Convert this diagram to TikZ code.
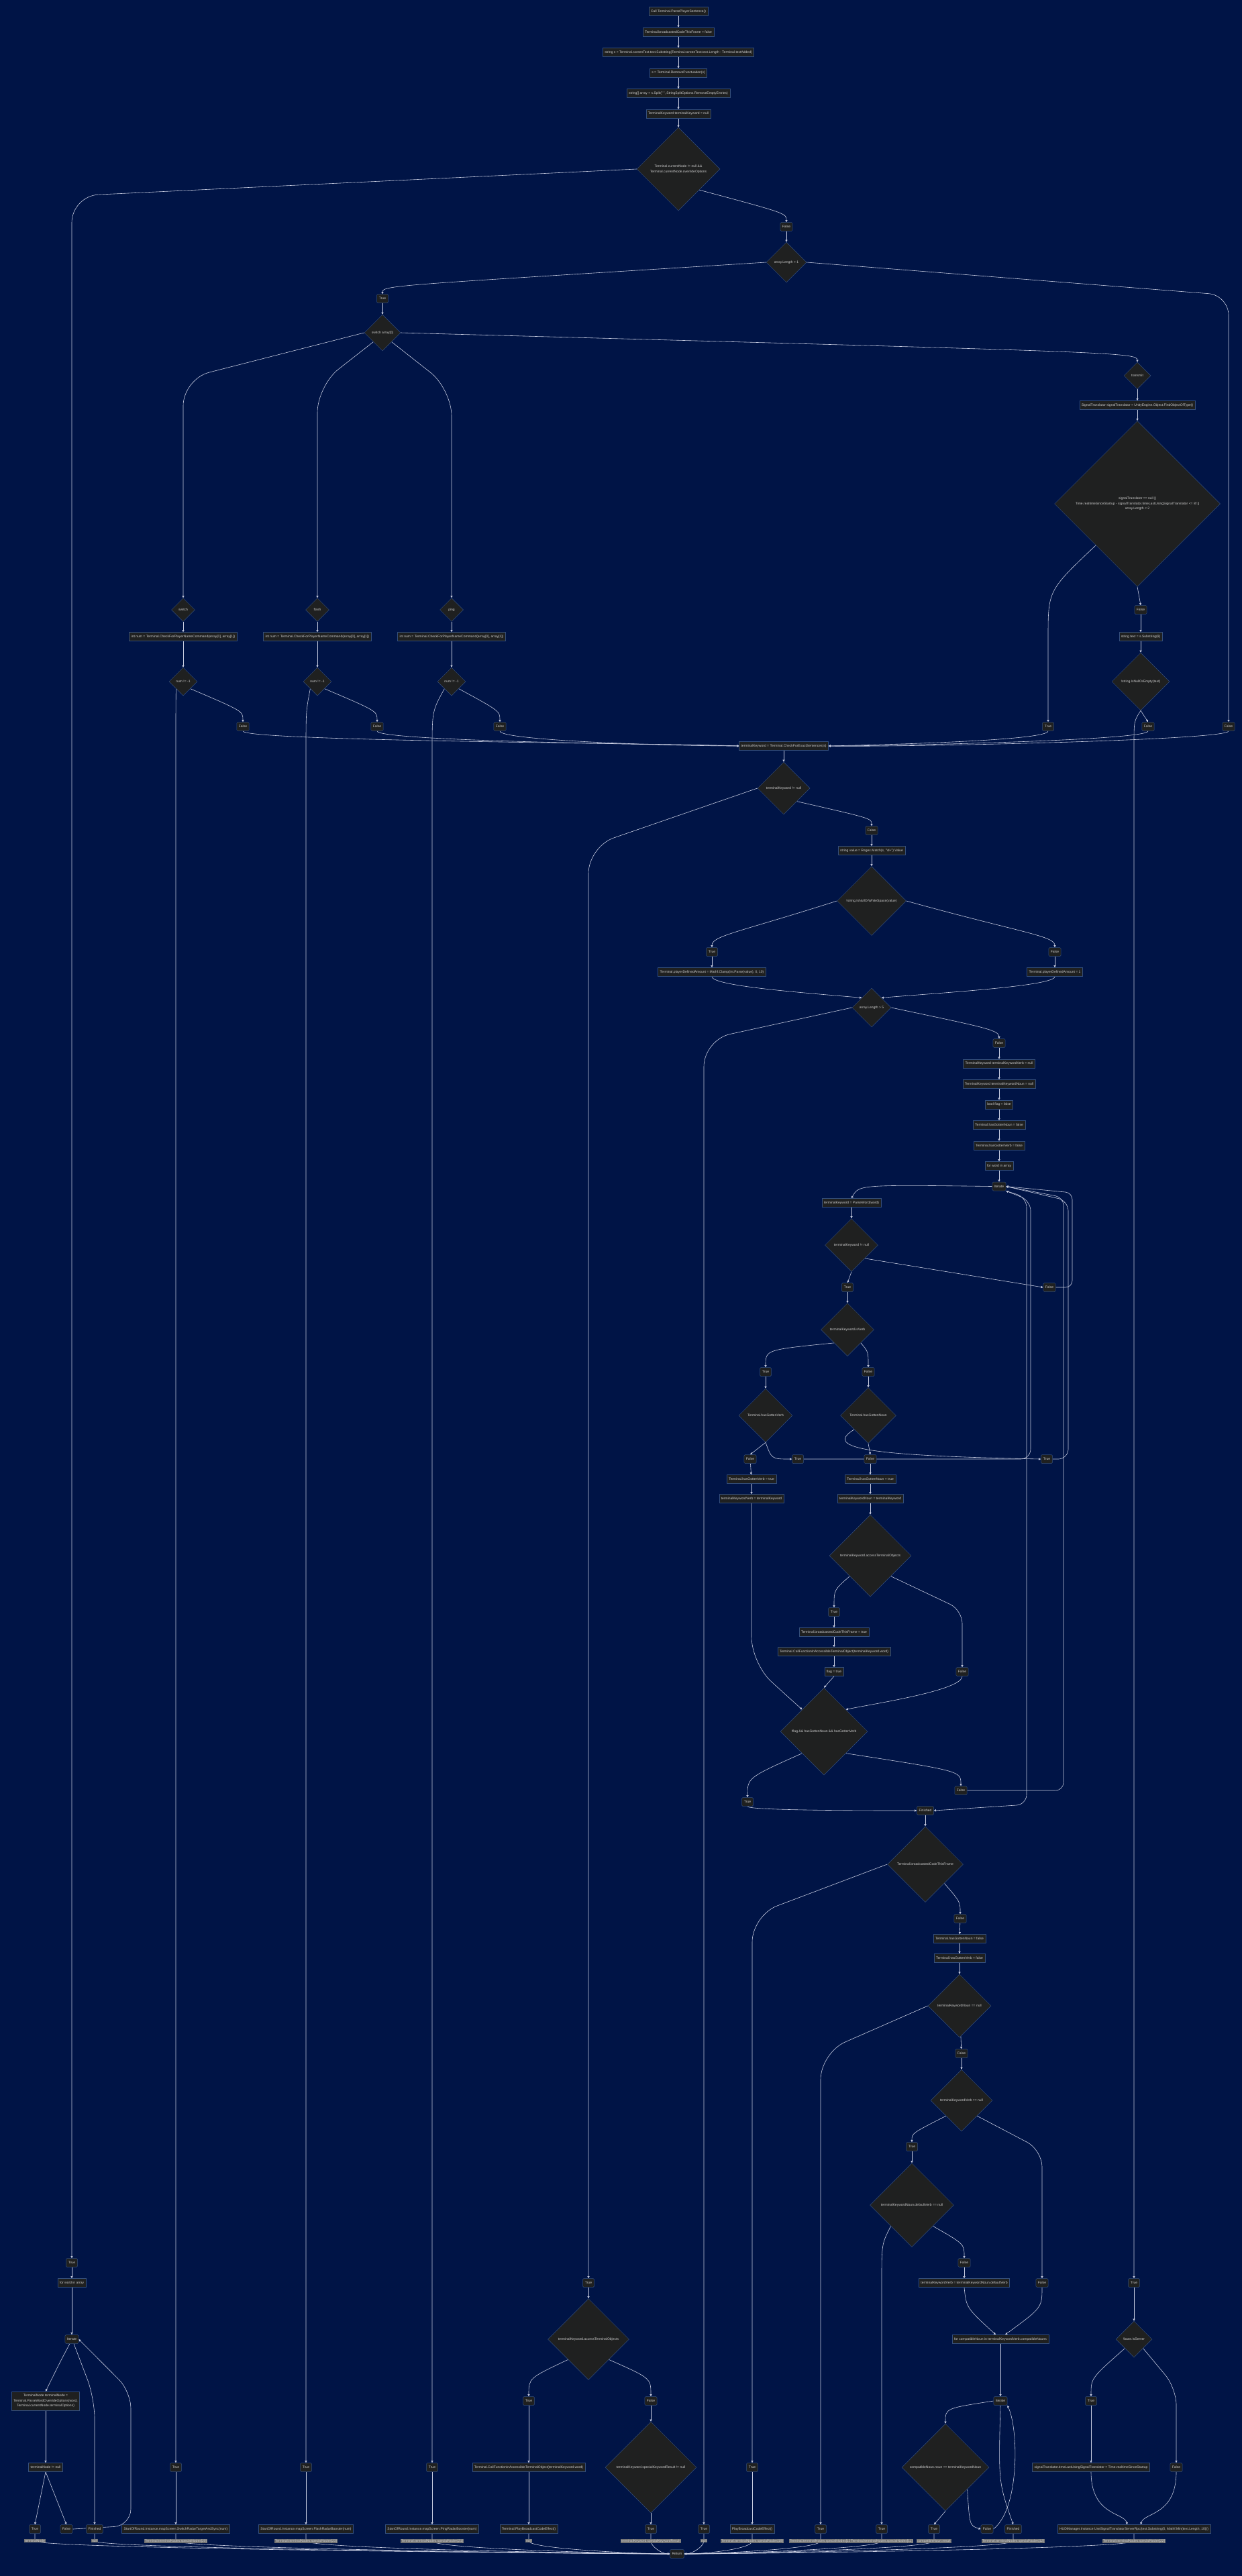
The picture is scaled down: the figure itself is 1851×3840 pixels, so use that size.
\documentclass[tikz,border=0pt]{standalone}
\usepackage{fontspec}
\setmainfont{Liberation Sans}
\usetikzlibrary{arrows.meta,positioning,shapes.geometric}
\definecolor{navybg}{RGB}{0,20,70}
\definecolor{boxfill}{RGB}{31,32,32}
\definecolor{boxline}{RGB}{52,78,122}
\definecolor{boxtext}{RGB}{205,205,205}
\definecolor{wirecol}{RGB}{200,205,225}
\definecolor{tagfill}{RGB}{115,115,115}
\pgfdeclarelayer{back}
\pgfdeclarelayer{wires}
\pgfsetlayers{back,wires,main}

\begin{document}
\begin{tikzpicture}[
    x=1pt, y=-1pt,
    >={Triangle[length=3.2pt,width=3.2pt]},
    font=\fontsize{5}{7.5}\selectfont,
    node distance=17pt,
    box/.style={
        rectangle,
        draw=boxline,
        fill=boxfill,
        text=boxtext,
        line width=0.5pt,
        minimum height=13pt,
        inner xsep=3pt,
        inner ysep=1pt
    },
    lbl/.style={box, rounded corners=1.5pt, minimum width=17pt},
    choice/.style={
        diamond,
        aspect=1,
        draw=boxline,
        fill=boxfill,
        text=boxtext,
        line width=0.5pt,
        inner sep=0pt,
        align=center
    },
    elab/.style={fill=tagfill, text=boxtext, inner xsep=1pt, inner ysep=0.5pt},
    wire/.style={draw=wirecol, line width=0.6pt, ->},
    bendwire/.style={wire, rounded corners=#1},
    bendwire/.default=20pt
]
\useasboundingbox (0,0) rectangle (1851,3840);
\begin{pgfonlayer}{back}
\fill[navybg] (0,0) rectangle (1851,3840);
\end{pgfonlayer}

% entry chain
\node[box] (start) at (1011,17) {Call Terminal.ParsePlayerSentence()};
\node[box, below=of start] (bcfalse) {Terminal.broadcastedCodeThisFrame = false};
\node[box, below=of bcfalse] (subs) {string s = Terminal.screenText.text.Substring(Terminal.screenText.text.Length - Terminal.textAdded)};
\node[box, below=of subs] (punct) {s = Terminal.RemovePunctuation(s)};
\node[box, below=of punct] (split) {string[] array = s.Split(" ", StringSplitOptions.RemoveEmptyEntries)};
\node[box, below=of split] (tkinit) {TerminalKeyword terminalKeyword = null};
\node[choice, minimum size=124pt] (override) at (1011,252) {Terminal.currentNode != null \&\&\\Terminal.currentNode.overrideOptions};
\node[lbl] (ovF) at (1172,338) {False};
\node[choice, minimum size=60pt] (lenOne) at (1172,391) {array.Length > 1};
\node[lbl] (lenT) at (570,445) {True};
\node[lbl] (lenF) at (1831,1083) {False};
\node[choice, minimum size=54pt] (sw) at (570,496) {switch array[0]};

% switch cases
\node[choice, minimum size=35pt] (caseSwitch) at (273,909) {switch};
\node[choice, minimum size=35pt] (caseFlash) at (473,909) {flash};
\node[choice, minimum size=35pt] (casePing) at (673,909) {ping};
\node[choice, minimum size=40pt] (caseTx) at (1695,560) {transmit};

\node[box] (numS) at (273,949) {int num = Terminal.CheckForPlayerNameCommand(array[0], array[1])};
\node[choice, minimum size=42pt] (chkS) at (273,1016) {num != -1};
\node[lbl] (chkSF) at (362,1083) {False};
\node[lbl] (chkST) at (262,3678) {True};
\node[box] (radS) at (262,3770) {StartOfRound.Instance.mapScreen.SwitchRadarTargetAndSync(num)};

\node[box] (numF) at (473,949) {int num = Terminal.CheckForPlayerNameCommand(array[0], array[1])};
\node[choice, minimum size=42pt] (chkF) at (473,1016) {num != -1};
\node[lbl] (chkFF) at (562,1083) {False};
\node[lbl] (chkFT) at (456,3678) {True};
\node[box] (radF) at (456,3770) {StartOfRound.Instance.mapScreen.FlashRadarBooster(num)};

\node[box] (numP) at (673,949) {int num = Terminal.CheckForPlayerNameCommand(array[0], array[1])};
\node[choice, minimum size=42pt] (chkP) at (673,1016) {num != -1};
\node[lbl] (chkPF) at (745,1083) {False};
\node[lbl] (chkPT) at (644,3678) {True};
\node[box] (radP) at (644,3770) {StartOfRound.Instance.mapScreen.PingRadarBooster(num)};

% transmit
\node[box] (findSig) at (1695,604) {SignalTranslator signalTranslator = UnityEngine.Object.FindObjectOfType()};
\node[choice, minimum size=247pt] (sigOk) at (1695,751) {signalTranslator == null ||\\Time.realtimeSinceStartup - signalTranslator.timeLastUsingSignalTranslator <= 8f ||\\array.Length < 2};
\node[lbl] (sigT) at (1562,1083) {True};
\node[lbl] (sigF) at (1700,909) {False};
\node[box] (txt) at (1700,949) {string text = s.Substring(8)};
\node[choice, minimum size=86pt] (txtOk) at (1700,1016) {!string.IsNullOrEmpty(text)};
\node[lbl] (txtF) at (1711,1083) {False};
\node[lbl] (txtT) at (1690,3403) {True};
\node[choice, minimum size=54pt] (server) at (1690,3487) {!base.IsServer};
\node[lbl] (serverT) at (1626,3579) {True};
\node[box] (stamp) at (1626,3678) {signalTranslator.timeLastUsingSignalTranslator = Time.realtimeSinceStartup};
\node[lbl] (serverF) at (1753,3678) {False};
\node[box] (hud) at (1690,3770) {HUDManager.Instance.UseSignalTranslatorServerRpc(text.Substring(0, Mathf.Min(text.Length, 10)))};

% exact sentences
\node[box] (exact) at (1168,1112) {terminalKeyword = Terminal.CheckForExactSentences(s)};
\node[choice, minimum size=78pt] (exactOk) at (1168,1175) {terminalKeyword != null};
\node[lbl] (exactF) at (1299,1238) {False};
\node[box] (regex) at (1299,1268) {string value = Regex.Match(s, "\textbackslash d+").Value};
\node[choice, minimum size=103pt] (valOk) at (1299,1343) {!string.IsNullOrWhiteSpace(value)};
\node[lbl] (valT) at (1061,1419) {True};
\node[box] (clamp) at (1061,1449) {Terminal.playerDefinedAmount = Mathf.Clamp(int.Parse(value), 0, 10)};
\node[lbl] (valF) at (1572,1419) {False};
\node[box] (amtOne) at (1572,1449) {Terminal.playerDefinedAmount = 1};
\node[choice, minimum size=58pt] (lenFive) at (1299,1502) {array.Length > 5};
\node[lbl] (lenFiveT) at (1049,3770) {True};
\node[lbl] (lenFiveF) at (1489,1555) {False};
\node[box, below=of lenFiveF] (verbNull) {TerminalKeyword terminalKeywordVerb = null};
\node[box, below=of verbNull] (nounNull) {TerminalKeyword terminalKeywordNoun = null};
\node[box, below=of nounNull] (flagInit) {bool flag = false};
\node[box, below=of flagInit] (nounReset) {Terminal.hasGottenNoun = false};
\node[box, below=of nounReset] (verbReset) {Terminal.hasGottenVerb = false};
\node[box, below=of verbReset] (forWord) {for word in array};
\node[lbl, below=of forWord] (iterWord) {Iterate};

% word loop
\node[box] (parse) at (1269,1793) {terminalKeyword = ParseWord(word)};
\node[choice, minimum size=79pt] (wordOk) at (1269,1856) {terminalKeyword != null};
\node[lbl] (wordT) at (1263,1919) {True};
\node[lbl] (wordF) at (1564,1919) {False};
\node[choice, minimum size=79pt] (isVerb) at (1263,1982) {terminalKeyword.isVerb};
\node[lbl] (isVerbT) at (1141,2045) {True};
\node[lbl] (isVerbF) at (1294,2045) {False};
\node[choice, minimum size=80pt] (gotVerb) at (1141,2110) {Terminal.hasGottenVerb};
\node[choice, minimum size=83pt] (gotNoun) at (1294,2110) {Terminal.hasGottenNoun};
\node[lbl] (gotVerbF) at (1118,2175) {False};
\node[lbl] (gotVerbT) at (1189,2175) {True};
\node[lbl] (gotNounF) at (1297,2175) {False};
\node[lbl] (gotNounT) at (1560,2175) {True};
\node[box] (setVerb) at (1120,2205) {Terminal.hasGottenVerb = true};
\node[box] (keepVerb) at (1120,2234) {terminalKeywordVerb = terminalKeyword};
\node[box] (setNoun) at (1297,2205) {Terminal.hasGottenNoun = true};
\node[box] (keepNoun) at (1297,2234) {terminalKeywordNoun = terminalKeyword};
\node[choice, minimum size=122pt] (access) at (1297,2319) {terminalKeyword.accessTerminalObjects};
\node[lbl] (accessT) at (1243,2403) {True};
\node[lbl] (accessF) at (1434,2492) {False};
\node[box] (bcTrue) at (1243,2433) {Terminal.broadcastedCodeThisFrame = true};
\node[box] (callObj) at (1243,2462) {Terminal.CallFunctionInAccessibleTerminalObject(terminalKeyword.word)};
\node[box] (flagSet) at (1243,2492) {flag = true};
\node[choice, minimum size=130pt] (done) at (1228,2581) {!flag \&\& hasGottenNoun \&\& hasGottenVerb};
\node[lbl] (doneT) at (1114,2686) {True};
\node[lbl] (doneF) at (1432,2669) {False};
\node[lbl] (wordsDone) at (1379,2699) {Finished};

% after the word loop
\node[choice, minimum size=113pt] (bcCheck) at (1379,2779) {Terminal.broadcastedCodeThisFrame};
\node[lbl] (bcT) at (1121,3678) {True};
\node[box] (playFx) at (1121,3770) {PlayBroadcastCodeEffect()};
\node[lbl] (bcF) at (1431,2860) {False};
\node[box] (nounClr) at (1430,2890) {Terminal.hasGottenNoun = false};
\node[box] (verbClr) at (1430,2919) {Terminal.hasGottenVerb = false};
\node[choice, minimum size=94pt] (nounNone) at (1430,2990) {terminalKeywordNoun == null};
\node[lbl] (nounNoneT) at (1223,3770) {True};
\node[lbl] (nounNoneF) at (1433,3061) {False};
\node[choice, minimum size=92pt] (verbNone) at (1433,3131) {terminalKeywordVerb == null};
\node[lbl] (verbNoneT) at (1359,3200) {True};
\node[lbl] (verbNoneF) at (1553,3403) {False};
\node[choice, minimum size=125pt] (defNone) at (1359,3287) {terminalKeywordNoun.defaultVerb == null};
\node[lbl] (defNoneT) at (1314,3770) {True};
\node[lbl] (defNoneF) at (1437,3373) {False};
\node[box] (useDef) at (1437,3403) {terminalKeywordVerb = terminalKeywordNoun.defaultVerb};
\node[box] (forNoun) at (1491,3487) {for compatibleNoun in terminalKeywordVerb.compatibleNouns};
\node[lbl] (iterNoun) at (1491,3579) {Iterate};
\node[choice, minimum size=130pt] (match) at (1409,3678) {compatibleNoun.noun == terminalKeywordNoun};
\node[lbl] (matchT) at (1392,3770) {True};
\node[lbl] (matchF) at (1471,3770) {False};
\node[lbl] (nounsDone) at (1510,3770) {Finished};

% exact keyword found
\node[lbl] (exactT) at (877,3403) {True};
\node[choice, minimum size=121pt] (exAccess) at (877,3487) {terminalKeyword.accessTerminalObjects};
\node[lbl] (exAccessT) at (788,3579) {True};
\node[box] (exCall) at (788,3678) {Terminal.CallFunctionInAccessibleTerminalObject(terminalKeyword.word)};
\node[box] (exFx) at (788,3770) {Terminal.PlayBroadcastCodeEffect()};
\node[lbl] (exAccessF) at (970,3579) {False};
\node[choice, minimum size=136pt] (special) at (970,3678) {terminalKeyword.specialKeywordResult != null};
\node[lbl] (specialT) at (970,3770) {True};

% override options
\node[lbl] (ovT) at (107,3373) {True};
\node[box] (forOpt) at (107,3403) {for word in array};
\node[lbl] (iterOpt) at (107,3487) {Iterate};
\node[box, align=center, minimum height=28pt] (parseOpt) at (68,3579) {TerminalNode terminalNode =\\Terminal.ParseWordOverrideOptions(word,\\Terminal.currentNode.terminalOptions)};
\node[box] (optOk) at (68,3678) {terminalNode != null};
\node[lbl] (optT) at (52,3770) {True};
\node[lbl] (optF) at (99,3770) {False};
\node[lbl] (optsDone) at (141,3770) {Finished};

\node[lbl] (ret) at (1009,3807) {Return};

\begin{pgfonlayer}{wires}
\draw[wire] (start) -- (bcfalse);
\draw[wire] (bcfalse) -- (subs);
\draw[wire] (subs) -- (punct);
\draw[wire] (punct) -- (split);
\draw[wire] (split) -- (tkinit);
\draw[wire] (tkinit) -- (override);
\draw[bendwire=40pt] (override.west) -- (107,292) -- (ovT.north);
\draw[wire] (override.south east) .. controls (1172,318) .. (ovF.north);
\draw[wire] (ovF) -- (lenOne);
\draw[wire] (lenOne.west) .. controls (600,425) and (570,425) .. (lenT.north);
\draw[bendwire=30pt] (lenOne.east) -- (1831,440) -- (lenF.north);
\draw[wire] (lenT) -- (sw);
\draw[bendwire=40pt] (sw.west) -- (273,565) -- (caseSwitch.north);
\draw[bendwire=40pt] (sw.south west) -- (473,575) -- (caseFlash.north);
\draw[bendwire=40pt] (sw.south east) -- (673,580) -- (casePing.north);
\draw[wire] (sw.east) .. controls (1660,525) and (1695,525) .. (caseTx.north);

\draw[wire] (caseSwitch) -- (numS);
\draw[wire] (numS) -- (chkS);
\draw[wire] (chkS.south west) .. controls (262,1060) .. (262,1120) -- (chkST.north);
\draw[wire] (chkS.south east) .. controls (362,1060) .. (chkSF.north);
\draw[wire] (chkST) -- (radS);
\draw[wire] (caseFlash) -- (numF);
\draw[wire] (numF) -- (chkF);
\draw[wire] (chkF.south west) .. controls (456,1060) .. (456,1120) -- (chkFT.north);
\draw[wire] (chkF.south east) .. controls (562,1060) .. (chkFF.north);
\draw[wire] (chkFT) -- (radF);
\draw[wire] (casePing) -- (numP);
\draw[wire] (numP) -- (chkP);
\draw[wire] (chkP.south west) .. controls (644,1060) .. (644,1120) -- (chkPT.north);
\draw[wire] (chkP.south east) .. controls (745,1060) .. (chkPF.north);
\draw[wire] (chkPT) -- (radP);

\draw[wire] (caseTx) -- (findSig);
\draw[wire] (findSig) -- (sigOk);
\draw[wire] (sigOk.south west) .. controls (1562,880) .. (1562,950) -- (sigT.north);
\draw[wire] (sigOk.south) -- (sigF.north);
\draw[wire] (sigF) -- (txt);
\draw[wire] (txt) -- (txtOk);
\draw[wire] (txtOk.south) .. controls (1690,1075) .. (1690,1110) -- (txtT.north);
\draw[wire] (txtOk.south) -- (txtF.north);
\draw[wire] (txtT) -- (server);
\draw[wire] (server.south west) .. controls (1626,3545) .. (serverT.north);
\draw[bendwire=25pt] (server.south east) -- (1753,3560) -- (serverF.north);
\draw[wire] (serverT) -- (stamp);
\draw[wire] (stamp.south) .. controls (1626,3750) and (1675,3745) .. ([xshift=-10pt]hud.north);
\draw[wire] (serverF.south) .. controls (1753,3750) and (1705,3745) .. ([xshift=10pt]hud.north);

\draw[wire] (chkSF.south) .. controls (362,1105) and (1000,1108) .. (exact.west);
\draw[wire] (chkFF.south) .. controls (562,1105) and (1000,1110) .. (exact.west);
\draw[wire] (chkPF.south) .. controls (745,1104) and (1000,1112) .. (exact.west);
\draw[wire] (sigT.south) .. controls (1562,1104) and (1320,1110) .. (exact.east);
\draw[wire] (txtF.south) .. controls (1711,1104) and (1320,1112) .. (exact.east);
\draw[wire] (lenF.south) .. controls (1831,1104) and (1320,1114) .. (exact.east);

\draw[wire] (exact) -- (exactOk);
\draw[bendwire=40pt] (exactOk.west) -- (877,1262) -- (exactT.north);
\draw[wire] (exactOk.south east) .. controls (1299,1220) .. (exactF.north);
\draw[wire] (exactF) -- (regex);
\draw[wire] (regex) -- (valOk);
\draw[wire] (valOk.west) .. controls (1100,1390) and (1061,1395) .. (valT.north);
\draw[wire] (valOk.east) .. controls (1520,1390) and (1572,1395) .. (valF.north);
\draw[wire] (valT) -- (clamp);
\draw[wire] (valF) -- (amtOne);
\draw[wire] (clamp.south) .. controls (1061,1470) and (1200,1480) .. (lenFive.north west);
\draw[wire] (amtOne.south) .. controls (1572,1470) and (1400,1480) .. (lenFive.north east);
\draw[bendwire=40pt] (lenFive.west) -- (1049,1550) -- (lenFiveT.north);
\draw[wire] (lenFive.east) .. controls (1460,1530) and (1489,1535) .. (lenFiveF.north);
\draw[wire] (lenFiveF) -- (verbNull);
\draw[wire] (verbNull) -- (nounNull);
\draw[wire] (nounNull) -- (flagInit);
\draw[wire] (flagInit) -- (nounReset);
\draw[wire] (nounReset) -- (verbReset);
\draw[wire] (verbReset) -- (forWord);
\draw[wire] (forWord) -- (iterWord);

\draw[wire] (iterWord.west) .. controls (1280,1766) .. (parse.north);
\draw[wire] (parse) -- (wordOk);
\draw[wire] (wordOk.south) -- (wordT.north);
\draw[wire] (wordOk.south east) -- (wordF.west);
\draw[bendwire=10pt] (wordF.east) -- (1598,1919) -- (1598,1778) -- (iterWord.east);
\draw[wire] (wordT) -- (isVerb);
\draw[wire] (isVerb.south west) .. controls (1141,2012) .. (isVerbT.north);
\draw[wire] (isVerb.south east) .. controls (1294,2015) .. (isVerbF.north);
\draw[wire] (isVerbT) -- (gotVerb);
\draw[wire] (isVerbF) -- (gotNoun);
\draw[wire] (gotVerb.south) -- (gotVerbF.north);
\draw[wire] (gotVerb.south) .. controls (1150,2175) .. (gotVerbT.west);
\draw[wire] (gotNoun.south) -- (gotNounF.north);
\draw[wire] (gotNoun.south west) .. controls (1225,2160) and (1300,2170) .. (gotNounT.west);
\draw[bendwire=15pt] (gotVerbT.east) -- (1536,2175) -- (1536,1790) -- (iterWord.south east);
\draw[bendwire=15pt] (gotNounT.east) -- (1592,2175) -- (1592,1790) -- (iterWord.east);
\draw[bendwire=15pt] (iterWord.south east) -- (1530,1785) -- (1530,2690) -- (wordsDone.east);

\draw[wire] (gotVerbF) -- (setVerb);
\draw[wire] (setVerb) -- (keepVerb);
\draw[bendwire=40pt] (keepVerb.south) -- (1120,2480) -- (done.north west);
\draw[wire] (gotNounF) -- (setNoun);
\draw[wire] (setNoun) -- (keepNoun);
\draw[wire] (keepNoun) -- (access);
\draw[wire] (access.south west) .. controls (1243,2370) .. (accessT.north);
\draw[bendwire=20pt] (access.south east) -- (1434,2400) -- (accessF.north);
\draw[wire] (accessT) -- (bcTrue);
\draw[wire] (bcTrue) -- (callObj);
\draw[wire] (callObj) -- (flagSet);
\draw[wire] (flagSet.south) -- (done.north);
\draw[wire] (accessF.south) .. controls (1434,2520) and (1300,2540) .. (done.north east);
\draw[wire] (done.south west) .. controls (1114,2650) .. (doneT.north);
\draw[wire] (done.south east) .. controls (1432,2640) .. (doneF.north);
\draw[bendwire=12pt] (doneF.east) -- (1585,2669) -- (1585,1785) -- (iterWord.east);
\draw[wire] (doneT.south) .. controls (1114,2699) and (1300,2699) .. (wordsDone.west);

\draw[wire] (wordsDone) -- (bcCheck);
\draw[bendwire=40pt] (bcCheck.west) -- (1121,2855) -- (bcT.north);
\draw[wire] (bcCheck.south east) .. controls (1431,2835) .. (bcF.north);
\draw[wire] (bcT) -- (playFx);
\draw[wire] (bcF) -- (nounClr);
\draw[wire] (nounClr) -- (verbClr);
\draw[wire] (verbClr) -- (nounNone);
\draw[bendwire=40pt] (nounNone.west) -- (1223,3060) -- (nounNoneT.north);
\draw[wire] (nounNone) -- (nounNoneF);
\draw[wire] (nounNoneF) -- (verbNone);
\draw[wire] (verbNone.south west) .. controls (1359,3180) .. (verbNoneT.north);
\draw[bendwire=25pt] (verbNone.south east) -- (1553,3205) -- (verbNoneF.north);
\draw[wire] (verbNoneT) -- (defNone);
\draw[wire] (defNone.south west) .. controls (1314,3345) .. (1314,3400) -- (defNoneT.north);
\draw[wire] (defNone.south east) .. controls (1437,3345) .. (defNoneF.north);
\draw[wire] (defNoneF) -- (useDef);
\draw[wire] (useDef.south) .. controls (1440,3440) .. ([xshift=-7pt]forNoun.north);
\draw[wire] (verbNoneF.south) .. controls (1553,3440) .. ([xshift=7pt]forNoun.north);
\draw[wire] (forNoun) -- (iterNoun);
\draw[wire] (iterNoun.west) .. controls (1409,3590) .. (match.north);
\draw[wire] (iterNoun.south) .. controls (1488,3700) .. (nounsDone.north);
\draw[wire] (match.south) -- (matchT.north);
\draw[wire] (match.south east) .. controls (1445,3765) .. (matchF.west);
\draw[wire] (matchF.east) .. controls (1520,3740) and (1518,3620) .. (iterNoun.south east);

\draw[wire] (exactT) -- (exAccess);
\draw[wire] (exAccess.south west) .. controls (788,3545) .. (exAccessT.north);
\draw[wire] (exAccess.south east) .. controls (970,3545) .. (exAccessF.north);
\draw[wire] (exAccessT) -- (exCall);
\draw[wire] (exCall) -- (exFx);
\draw[wire] (exAccessF) -- (special);
\draw[wire] (special) -- (specialT);

\draw[wire] (ovT) -- (forOpt);
\draw[wire] (forOpt) -- (iterOpt);
\draw[wire] ([xshift=-3pt]iterOpt.south) .. controls (90,3520) .. (parseOpt.north);
\draw[bendwire=30pt] ([xshift=3pt]iterOpt.south) -- (141,3575) -- (optsDone.north);
\draw[wire] (parseOpt) -- (optOk);
\draw[wire] (optOk.south) -- (optT.north);
\draw[wire] (optOk.south) -- (optF.north);
\draw[bendwire=25pt] (optF.east) -- (195,3765) -- (195,3565) -- (iterOpt.east);

% returns
\draw[wire] (optT.south) -- ++(0,11) node[elab] {terminalNode} .. controls +(0,12) and +(-80,0) .. (ret.west);
\draw[wire] (optsDone.south) -- ++(0,11) node[elab] {null} .. controls +(0,12) and +(-80,0) .. (ret.west);
\draw[wire] (radS.south) -- ++(0,11) node[elab] {Terminal.terminalNodes.specialNodes[20]} .. controls +(0,12) and +(-70,0) .. (ret.west);
\draw[wire] (radF.south) -- ++(0,11) node[elab] {Terminal.terminalNodes.specialNodes[23]} .. controls +(0,12) and +(-60,0) .. (ret.west);
\draw[wire] (radP.south) -- ++(0,11) node[elab] {Terminal.terminalNodes.specialNodes[21]} .. controls +(0,12) and +(-50,0) .. (ret.west);
\draw[wire] (exFx.south) -- ++(0,11) node[elab] {null} .. controls +(0,12) and +(-40,0) .. (ret.west);
\draw[wire] (specialT.south) -- ++(0,11) node[elab] {terminalKeyword.specialKeywordResult} .. controls +(0,8) and +(-12,0) .. (ret.west);
\draw[wire] (lenFiveT.south) -- ++(0,11) node[elab] {null} .. controls +(0,8) and +(12,0) .. (ret.east);
\draw[wire] (playFx.south) -- ++(0,11) node[elab] {Terminal.terminalNodes.specialNodes[19]} .. controls +(0,12) and +(30,0) .. (ret.east);
\draw[wire] (nounNoneT.south) -- ++(0,11) node[elab] {Terminal.terminalNodes.specialNodes[10]} .. controls +(0,12) and +(40,0) .. (ret.east);
\draw[wire] (defNoneT.south) -- ++(0,11) node[elab] {Terminal.terminalNodes.specialNodes[11]} .. controls +(0,12) and +(50,0) .. (ret.east);
\draw[wire] (matchT.south) -- ++(0,11) node[elab] {compatibleNoun.result} .. controls +(0,12) and +(60,0) .. (ret.east);
\draw[wire] (nounsDone.south) -- ++(0,11) node[elab] {Terminal.terminalNodes.specialNodes[12]} .. controls +(0,12) and +(70,0) .. (ret.east);
\draw[wire] (hud.south) -- ++(0,11) node[elab] {Terminal.terminalNodes.specialNodes[22]} .. controls +(0,12) and +(80,0) .. (ret.east);
\end{pgfonlayer}
\end{tikzpicture}
\end{document}
